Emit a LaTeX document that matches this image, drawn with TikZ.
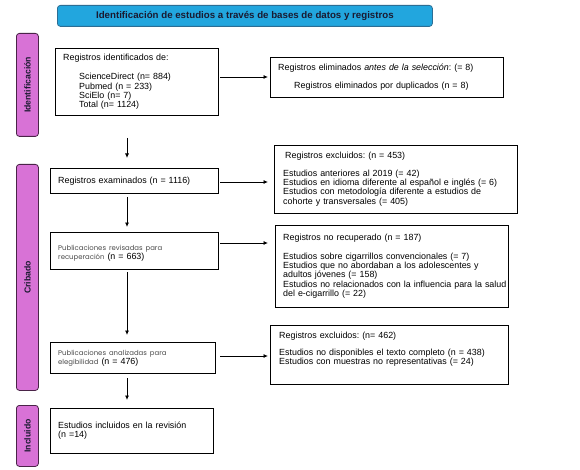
\documentclass[tikz,border=0pt]{standalone}
\usepackage{fontspec}
\setmainfont{Liberation Sans}
\newfontfamily\popfont{Poppins}
\usetikzlibrary{arrows.meta}
\frenchspacing
\definecolor{titlefill}{HTML}{22A6DE}
\definecolor{titleline}{HTML}{2C6E94}
\definecolor{sidefill}{HTML}{D872D6}
\definecolor{sideline}{HTML}{4A2448}
\definecolor{labtext}{HTML}{1A1A30}
\definecolor{greytext}{HTML}{4A4A4A}
\newcommand{\pop}[1]{{\popfont\fontsize{6.9pt}{9pt}\selectfont\color{greytext}#1}}
\tikzset{
  x=1pt, y=-1pt,
  box/.style={draw=black, line width=0.8pt, fill=white, inner sep=0pt, anchor=north west},
  side/.style={draw=sideline, fill=sidefill, line width=0.8pt, rounded corners=3pt, inner sep=0pt, anchor=north west},
  sidetext/.style={rotate=90, font=\fontsize{8.7pt}{9pt}\selectfont\bfseries, text=labtext, inner sep=0pt},
  txt/.style={anchor=base west, inner sep=0pt, align=left, text width=#1, font=\fontsize{8.9pt}{9.2pt}\selectfont\frenchspacing},
  txt/.default=260pt,
  arr/.style={-{Latex[length=4.5pt,width=4pt]}, line width=0.8pt}
}
\begin{document}
\begin{tikzpicture}
\useasboundingbox[fill=white] (0,0) rectangle (580,470);
% title
\node[draw=titleline, fill=titlefill, line width=0.8pt, rounded corners=3pt, minimum width=375pt, minimum height=21pt, anchor=north west, inner sep=0pt,
  font=\fontsize{9.7pt}{10pt}\selectfont\bfseries, text=labtext] (title) at (57,5) {Identificación de estudios a través de bases de datos y registros};
% side labels
\node[side, minimum width=22pt, minimum height=103pt] (s1) at (16,33) {};
\node[sidetext] (s1t) at (s1.center) {Identificación};
\node[side, minimum width=22pt, minimum height=226pt] (s2) at (16,164) {};
\node[sidetext] (s2t) at (s2.center) {Cribado};
\node[side, minimum width=22pt, minimum height=61pt] (s3) at (16,405) {};
\node[sidetext] (s3t) at (s3.center) {Incluido};
% left boxes
\node[box, minimum width=163pt, minimum height=67pt] (b1) at (55,48) {};
\node[txt] (b1t) at (63,60.5) {Registros identificados de:};
\node[txt] (b1l) at (79,80) {ScienceDirect (n= 884)\\Pubmed (n = 233)\\SciElo (n= 7)\\Total (n= 1124)};
\node[box, minimum width=168pt, minimum height=25pt] (b2) at (50,168) {};
\node[txt] (b2t) at (58,183.5) {Registros examinados (n = 1116)};
\node[box, minimum width=168pt, minimum height=37pt] (b3) at (50,232) {};
\node[txt] (b3t) at (58,250.5) {\pop{Publicaciones revisadas para}\\\pop{recuperación} (n = 663)};
\node[box, minimum width=165pt, minimum height=31pt] (b4) at (50,342) {};
\node[txt] (b4t) at (58,355) {\pop{Publicaciones analizadas para}\\\pop{elegibilidad} (n = 476)};
\node[box, minimum width=163pt, minimum height=45pt] (b5) at (50,408) {};
\node[txt] (b5t) at (58,428.5) {Estudios incluidos en la revisión\\(n =14)};
% right boxes
\node[box, minimum width=233pt, minimum height=40pt] (r1) at (270,57) {};
\node[txt] (r1a) at (278,71) {Registros eliminados \textit{antes de la selección}: (= 8)};
\node[txt] (r1b) at (294,88.5) {Registros eliminados por duplicados (n = 8)};
\node[box, minimum width=243pt, minimum height=68pt] (r2) at (274,145) {};
\node[txt] (r2a) at (285,158.5) {Registros excluidos: (n = 453)};
\node[txt] (r2b) at (283,176.5) {Estudios anteriores al 2019 (= 42)\\Estudios en idioma diferente al español e inglés (= 6)\\Estudios con metodología diferente a estudios de\\cohorte y transversales (= 405)};
\node[box, minimum width=233pt, minimum height=82pt] (r3) at (275,225) {};
\node[txt] (r3a) at (283,240.5) {Registros no recuperado (n = 187)};
\node[txt] (r3b) at (283,259.5) {Estudios sobre cigarrillos convencionales (= 7)\\Estudios que no abordaban a los adolescentes y\\adultos jóvenes (= 158)\\Estudios no relacionados con la influencia para la salud\\del e-cigarrillo (= 22)};
\node[box, minimum width=238pt, minimum height=59pt] (r4) at (270,325) {};
\node[txt] (r4a) at (279,338.5) {Registros excluidos: (n= 462)};
\node[txt] (r4b) at (279,355.5) {Estudios no disponibles el texto completo (n = 438)\\Estudios con muestras no representativas (= 24)};
% horizontal arrows
\coordinate (h1) at (220,77);
\coordinate (h2) at (220,182);
\coordinate (h3) at (220,243);
\coordinate (h4) at (220,356);
\draw[arr] (h1) -- ([xshift=-2pt]h1 -| r1.west);
\draw[arr] (h2) -- ([xshift=-6pt]h2 -| r2.west);
\draw[arr] (h3) -- ([xshift=-7pt]h3 -| r3.west);
\draw[arr] (h4) -- ([xshift=-2pt]h4 -| r4.west);
% vertical arrows
\coordinate (v1) at (127,138);
\coordinate (v2) at (127,197);
\coordinate (v3) at (127,272);
\coordinate (v4) at (127,378);
\draw[arr] (v1) -- ([yshift=10pt]v1 |- b2.north);
\draw[arr] (v2) -- ([yshift=5pt]v2 |- b3.north);
\draw[arr] (v3) -- ([yshift=7pt]v3 |- b4.north);
\draw[arr] (v4) -- ([yshift=8pt]v4 |- b5.north);
\end{tikzpicture}
\end{document}
